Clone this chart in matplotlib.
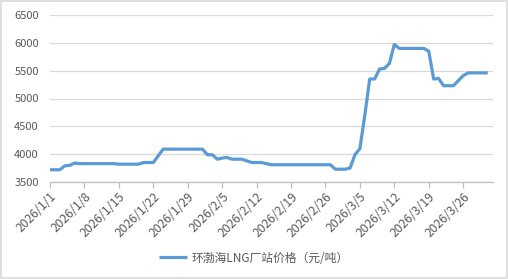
import matplotlib
matplotlib.use("Agg")
import matplotlib.pyplot as plt
from matplotlib.patches import Rectangle
from matplotlib.transforms import ScaledTranslation
import pandas as pd

plt.rcParams['font.family'] = ['Noto Sans CJK SC', 'DejaVu Sans']

start_date = "2026-01-01"
series_name = "环渤海LNG厂站价格（元/吨）"

prices = [
    3720, 3720, 3720, 3790, 3800, 3840, 3830, 3830, 3830, 3830,   # 1/1-1/10
    3830, 3830, 3830, 3830, 3820, 3820, 3820, 3820, 3820, 3850,   # 1/11-1/20
    3850, 3850, 3970, 4090, 4090, 4090, 4090, 4090, 4090, 4090,   # 1/21-1/30
    4090, 4090, 3990, 3990, 3910, 3930, 3940, 3910, 3910, 3910,   # 1/31-2/9
    3880, 3850, 3850, 3850, 3830, 3810, 3810, 3810, 3810, 3810,   # 2/10-2/19
    3810, 3810, 3810, 3810, 3810, 3810, 3810, 3810, 3730, 3730,   # 2/20-3/1
    3730, 3750, 3990, 4100, 4700, 5350, 5350, 5530, 5540, 5630,   # 3/2-3/11
    5970, 5900, 5900, 5900, 5900, 5900, 5900, 5850, 5350, 5360,   # 3/12-3/21
    5230, 5230, 5230, 5320, 5410, 5460, 5460, 5460, 5460, 5460,   # 3/22-3/31
]

tick_labels = ["2026/1/1", "2026/1/8", "2026/1/15", "2026/1/22", "2026/1/29",
               "2026/2/5", "2026/2/12", "2026/2/19", "2026/2/26", "2026/3/5",
               "2026/3/12", "2026/3/19", "2026/3/26"]
y_ticks = [3500, 4000, 4500, 5000, 5500, 6000, 6500]

dates = pd.date_range(start_date, periods=len(prices), freq="D")
tick_dates = pd.to_datetime(tick_labels, format="%Y/%m/%d")

fig = plt.figure(figsize=(5.08, 2.79), dpi=100)
fig.patch.set_facecolor("white")
fig.add_artist(Rectangle((0.001, 0.002), 0.997, 0.995, transform=fig.transFigure,
                         fill=False, edgecolor="#D9D9D9", linewidth=1.2))

ax = fig.add_axes([50/508, 1-182/279, (492.7-50)/508, (182-15)/279])
ax.plot(dates, prices, color="#5B9BD5", linewidth=2.3, solid_joinstyle="round",
        solid_capstyle="butt", label=series_name, zorder=3)

ax.set_ylim(3500, 6500)
ax.set_yticks(y_ticks)
ax.set_yticklabels([str(v) for v in y_ticks])
ax.set_xlim(dates[0], dates[0] + pd.Timedelta(days=90))
ax.set_xticks(tick_dates)
ax.set_xticklabels(tick_labels, rotation=45, ha="right", va="top",
                   rotation_mode="anchor")
offset = ScaledTranslation(5/100, -3/100, fig.dpi_scale_trans)
for lbl in ax.get_xticklabels():
    lbl.set_transform(lbl.get_transform() + offset)

ax.grid(axis="y", color="#D9D9D9", linewidth=0.9, zorder=0)
for s in ["top", "right", "left"]:
    ax.spines[s].set_visible(False)
ax.spines["bottom"].set_color("#BFBFBF")
ax.spines["bottom"].set_linewidth(0.9)
ax.tick_params(axis="y", length=0, pad=8, labelsize=8, labelcolor="#595959")
ax.tick_params(axis="x", length=4, width=0.9, color="#BFBFBF", pad=2,
               labelsize=8.8, labelcolor="#595959")

fig.legend(loc="center", bbox_to_anchor=(0.5, 1-258/279), frameon=False,
           fontsize=8.5, handlelength=2.4, handletextpad=0.4,
           labelcolor="#595959")

fig.savefig("out.png", dpi=100)
